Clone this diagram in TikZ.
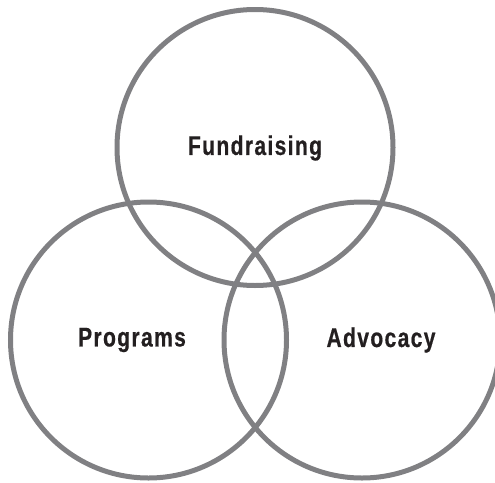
\documentclass[tikz,border=0pt]{standalone}
\usepackage{fontspec}
\setmainfont{Liberation Sans}[FakeStretch=0.78,LetterSpace=5,FakeBold=0.6]
\definecolor{ring}{HTML}{808083}
\definecolor{ink}{HTML}{231F20}
\begin{document}
\begin{tikzpicture}[x=1pt,y=-1pt,
  ring/.style={draw=ring,line width=5pt,circle,minimum size=276pt,inner sep=0pt},
  lbl/.style={text=ink,font=\fontsize{27}{30}\selectfont\bfseries,inner sep=0pt}]
\useasboundingbox (0,0) rectangle (495,482);
\clip (0,0) rectangle (495,482);
\node[ring] (top) at (255,147.5) {};
\node[ring] (left) at (148.5,340) {};
\node[ring] (right) at (362,340) {};
\node[lbl] (fund) at (255,148) {Fundraising};
\node[lbl] (prog) at (132,340) {Programs};
\node[lbl] (adv) at (381,340) {Advocacy};
\end{tikzpicture}
\end{document}
